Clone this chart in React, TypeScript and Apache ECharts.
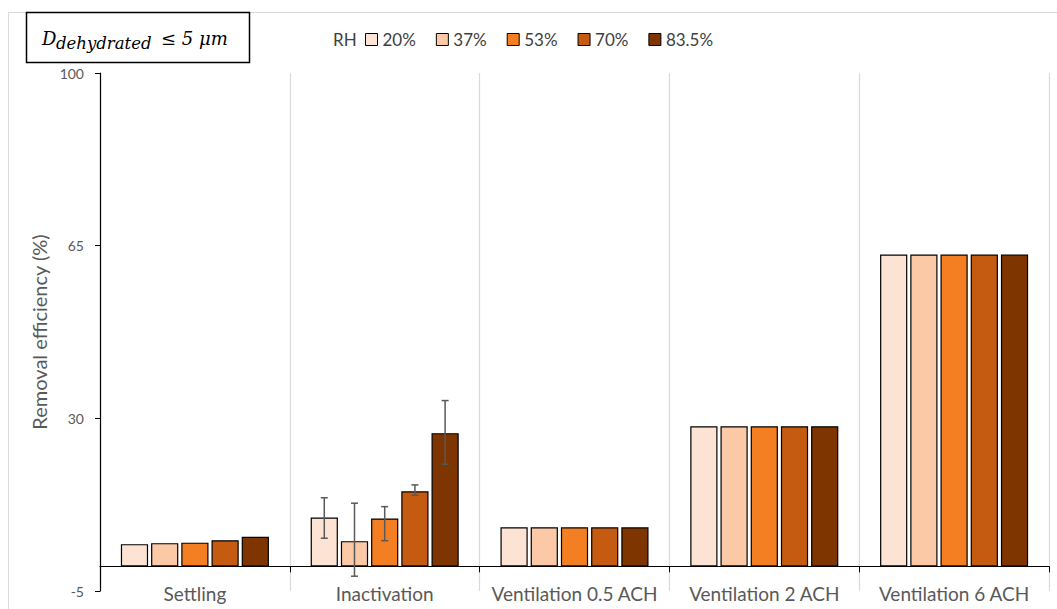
import React, { useEffect, useRef } from "react";
import * as echarts from "echarts";

const categories = ["Settling", "Inactivation", "Ventilation 0.5 ACH", "Ventilation 2 ACH", "Ventilation 6 ACH"];
const seriesNames = ["20%", "37%", "53%", "70%", "83.5%"];
const colors = ["#FDE3D3", "#FBC9A6", "#F47F22", "#C55A11", "#7F3500"];
const rh20 = [4.5, 9.9, 7.9, 28.4, 63.2];
const rh37 = [4.7, 5.1, 7.9, 28.4, 63.2];
const rh53 = [4.8, 9.7, 7.9, 28.4, 63.2];
const rh70 = [5.3, 15.2, 7.9, 28.4, 63.2];
const rh835 = [6.0, 27.0, 7.9, 28.4, 63.2];
const seriesValues = [rh20, rh37, rh53, rh70, rh835];
// error bars for Inactivation: [categoryIndex, seriesIndex, low, high]
const errorBars = [
  [1, 0, 5.7, 13.9],
  [1, 1, -2.0, 12.8],
  [1, 2, 5.2, 12.1],
  [1, 3, 14.4, 16.5],
  [1, 4, 20.7, 33.6],
];
const yTicks = [-5, 30, 65, 100];

const CAT_GAP = 0.22;
const BAR_GAP = 0.11;
const FONT = "Lato, 'Open Sans', sans-serif";
const SERIF = "'DejaVu Serif', serif";

export default function App() {
  const ref = useRef<HTMLDivElement>(null);
  useEffect(() => {
    if (!ref.current) return;
    const chart = echarts.init(ref.current, undefined, { renderer: "svg" });
    const n = seriesNames.length;
    const barSeries = seriesNames.map((name, i) => ({
      name,
      type: "bar",
      data: seriesValues[i],
      barCategoryGap: CAT_GAP * 100 + "%",
      barGap: BAR_GAP * 100 + "%",
      itemStyle: { color: colors[i], borderColor: "#000", borderWidth: 1.2 },
      z: 2,
    }));
    const errSeries = {
      type: "custom",
      name: "err",
      z: 5,
      data: errorBars,
      renderItem: (params: any, api: any) => {
        const cat = api.value(0);
        const si = api.value(1);
        const lo = api.value(2);
        const hi = api.value(3);
        const band = api.size([1, 0])[0];
        const usable = band * (1 - CAT_GAP);
        const bw = usable / (n + (n - 1) * BAR_GAP);
        const center = api.coord([cat, 0])[0];
        const x = center - usable / 2 + bw / 2 + si * bw * (1 + BAR_GAP);
        const yLo = api.coord([cat, lo])[1];
        const yHi = api.coord([cat, hi])[1];
        const cap = 3.5;
        const style = { stroke: "#595959", lineWidth: 1.5 };
        return {
          type: "group",
          children: [
            { type: "line", shape: { x1: x, y1: yLo, x2: x, y2: yHi }, style },
            { type: "line", shape: { x1: x - cap, y1: yLo, x2: x + cap, y2: yLo }, style },
            { type: "line", shape: { x1: x - cap, y1: yHi, x2: x + cap, y2: yHi }, style },
          ],
        };
      },
    };
    chart.setOption({
      animation: false,
      backgroundColor: "#fff",
      textStyle: { fontFamily: FONT },
      grid: { left: 100, right: 8, top: 73, bottom: 18, containLabel: false, outerBoundsMode: "none" },
      legend: {
        data: seriesNames,
        left: 365,
        top: 31,
        padding: 0,
        icon: "rect",
        itemWidth: 12,
        itemHeight: 12,
        itemGap: 20,
        itemStyle: { borderColor: "#000", borderWidth: 1 },
        textStyle: { fontFamily: FONT, fontSize: 17, color: "#404040" },
      },
      xAxis: {
        type: "category",
        data: categories,
        axisLine: { onZero: true, lineStyle: { color: "#000", width: 1.2 } },
        axisTick: { show: true, length: 6, interval: 0, lineStyle: { color: "#000" } },
        axisLabel: { interval: 0, margin: -7, fontSize: 19, color: "#595959", fontFamily: FONT },
        splitLine: { show: true, interval: 0, lineStyle: { color: "#D9D9D9", width: 1.2 } },
      },
      yAxis: {
        type: "value",
        min: -5,
        max: 100,
        name: "Removal efficiency (%)",
        nameLocation: "middle",
        nameGap: 46,
        nameTextStyle: { fontSize: 20, color: "#595959", fontFamily: FONT },
        axisLine: { show: true, lineStyle: { color: "#000", width: 1.2 } },
        axisTick: { show: true, length: 5, customValues: yTicks, lineStyle: { color: "#000" } },
        axisLabel: { customValues: yTicks, margin: 16, fontSize: 14, color: "#595959", fontFamily: FONT },
        splitLine: { show: false },
      },
      graphic: [
        {
          type: "rect",
          shape: { x: 8.5, y: 12.5, width: 1100, height: 700 },
          style: { fill: "none", stroke: "#D9D9D9", lineWidth: 1 },
          silent: true,
          z: 0,
        },
        {
          type: "rect",
          shape: { x: 26.5, y: 12.5, width: 223, height: 50 },
          style: { fill: "#fff", stroke: "#000", lineWidth: 1.5 },
          z: 10,
        },
        {
          type: "text",
          x: 42,
          y: 47,
          style: { text: "D", fontFamily: SERIF, fontStyle: "italic", fontSize: 18, fill: "#000", verticalAlign: "bottom" },
          z: 11,
        },
        {
          type: "text",
          x: 56,
          y: 52,
          style: { text: "dehydrated", fontFamily: SERIF, fontStyle: "italic", fontSize: 16.5, fill: "#000", verticalAlign: "bottom" },
          z: 11,
        },
        {
          type: "text",
          x: 161,
          y: 47,
          style: { text: "≤ 5 μm", fontFamily: SERIF, fontStyle: "italic", fontSize: 18, fill: "#000", verticalAlign: "bottom" },
          z: 11,
        },
        {
          type: "text",
          x: 333,
          y: 39,
          style: { text: "RH", fontFamily: FONT, fontSize: 17, fill: "#404040", verticalAlign: "middle" },
          z: 11,
        },
      ],
      series: [...barSeries, errSeries],
    });
    return () => chart.dispose();
  }, []);
  return <div ref={ref} style={{ position: "fixed", left: 0, top: 0, width: 1057, height: 609 }} />;
}
